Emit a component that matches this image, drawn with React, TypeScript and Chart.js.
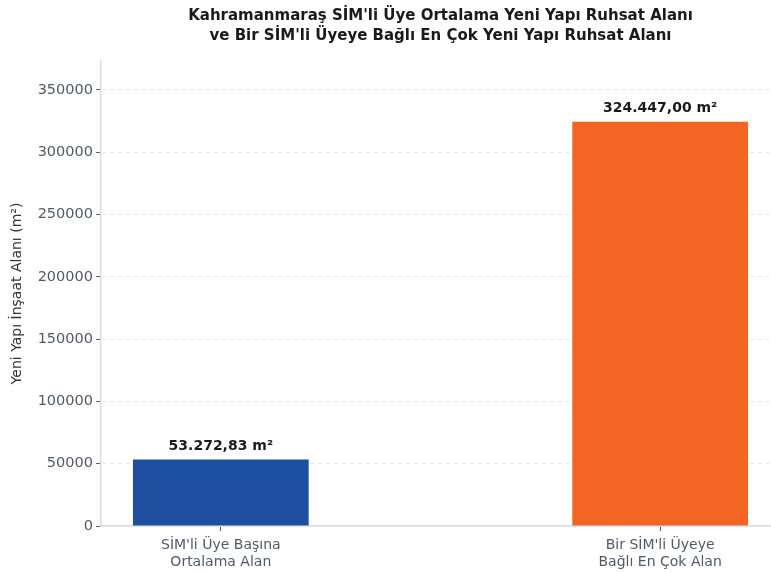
import React, { useEffect, useRef } from "react";
import { Chart, registerables } from "chart.js";

Chart.register(...registerables);

const titleLines = [
  "Kahramanmaraş SİM'li Üye Ortalama Yeni Yapı Ruhsat Alanı",
  "ve Bir SİM'li Üyeye Bağlı En Çok Yeni Yapı Ruhsat Alanı",
];
const categories = [
  ["SİM'li Üye Başına", "Ortalama Alan"],
  ["Bir SİM'li Üyeye", "Bağlı En Çok Alan"],
];
const values = [53272.83, 324447.0];
const barColors = ["#1f4fa0", "#f26522"];
const yTitle = "Yeni Yapı İnşaat Alanı (m²)";
const yTicks = [0, 50000, 100000, 150000, 200000, 250000, 300000, 350000];
const yMax = 324447.0 * 1.15;

const FONT = "'DejaVu Sans', sans-serif";

function formatTR(v: number): string {
  const fixed = v.toFixed(2);
  const [intPart, dec] = fixed.split(".");
  const withDots = intPart.replace(/\B(?=(\d{3})+(?!\d))/g, ".");
  return `${withDots},${dec} m²`;
}

const labelPlugin = {
  id: "customLabels",
  afterDraw(chart: any) {
    const { ctx } = chart;
    const xs = chart.scales.x;
    ctx.save();
    ctx.fillStyle = "#1a1a1a";
    ctx.font = `bold 15px ${FONT}`;
    ctx.textAlign = "center";
    ctx.textBaseline = "middle";
    const cx = xs.getPixelForValue(0.5);
    titleLines.forEach((t, i) => ctx.fillText(t, cx, 16 + i * 20.5));
    const meta = chart.getDatasetMeta(0);
    ctx.font = `bold 14px ${FONT}`;
    ctx.textBaseline = "bottom";
    meta.data.forEach((bar: any, i: number) => {
      ctx.fillText(formatTR(values[i]), bar.x, bar.y - 6);
    });
    ctx.restore();
  },
};

export default function App() {
  const ref = useRef<HTMLCanvasElement>(null);
  useEffect(() => {
    document.body.style.margin = "0";
    const chart = new Chart(ref.current!, {
      type: "bar",
      data: {
        datasets: [
          {
            data: values.map((v, i) => ({ x: i, y: v })),
            backgroundColor: barColors,
            borderWidth: 0,
            barPercentage: 0.4,
            categoryPercentage: 1,
          } as any,
        ],
      },
      plugins: [labelPlugin],
      options: {
        animation: false,
        responsive: false,
        layout: { padding: { top: 61, left: 0, right: 0, bottom: 0 } },
        plugins: {
          legend: { display: false },
          title: { display: false },
          tooltip: { enabled: false },
        },
        scales: {
          x: {
            type: "linear",
            offset: false,
            min: -0.2727,
            max: 1.2523,
            afterBuildTicks: (scale: any) => {
              scale.ticks = categories.map((_, i) => ({ value: i }));
            },
            afterFit: (scale: any) => {
              scale.height = 47;
            },
            ticks: {
              autoSkip: false,
              maxRotation: 0,
              padding: 6,
              color: "#4f5a6b",
              font: { family: FONT, size: 14, lineHeight: 1.2 },
              callback: (v: any) => categories[Number(v)] ?? "",
            },
            grid: {
              display: true,
              offset: false,
              drawOnChartArea: false,
              drawTicks: true,
              tickLength: 5,
              tickColor: "#5a6270",
            },
            border: { display: true, color: "#d5dde6", width: 1.5 },
          },
          y: {
            min: 0,
            max: yMax,
            afterBuildTicks: (scale: any) => {
              scale.ticks = yTicks.map((v) => ({ value: v }));
            },
            afterFit: (scale: any) => {
              scale.width = 101;
            },
            ticks: {
              padding: 3,
              color: "#4f5a6b",
              font: { family: FONT, size: 14.5 },
              callback: (v: any) => String(v),
            },
            grid: {
              color: "#e3e8ee",
              lineWidth: 1,
              drawTicks: true,
              tickLength: 5,
              tickColor: "#5a6270",
            },
            border: { display: true, color: "#d5dde6", width: 1.5, dash: [4, 4] },
            title: {
              display: true,
              text: yTitle,
              color: "#333333",
              padding: { top: 9, bottom: 4 },
              font: { family: FONT, size: 14 },
            },
          },
        },
      } as any,
    });
    return () => chart.destroy();
  }, []);
  return <canvas ref={ref} width={771} height={573} style={{ display: "block" }} />;
}
